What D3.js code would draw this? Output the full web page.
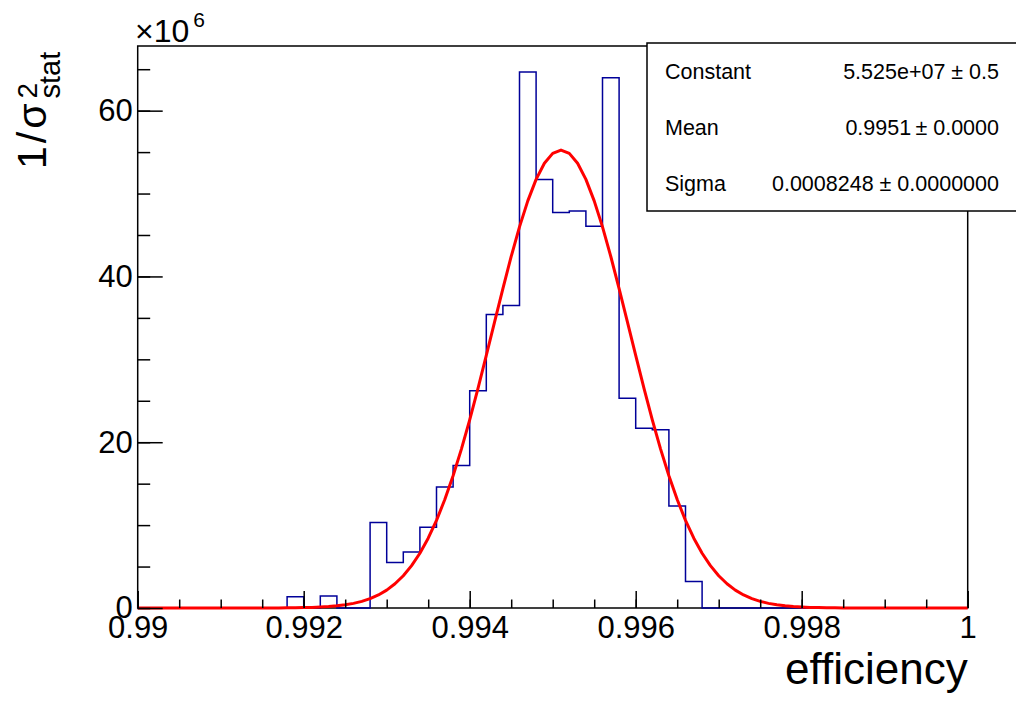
<!DOCTYPE html>
<html>
<head>
<meta charset="utf-8">
<script src="https://cdn.jsdelivr.net/npm/d3@7"></script>
<style>
    body { margin: 0; background: #fff; }
    svg { display: block; font-family: 'Liberation Sans', Arial, sans-serif; }
</style>
</head>
<body>
<svg id="chart" width="1016" height="702"></svg>
<script>
// histogram: 50 bins from 0.99 to 1.0, contents in units of 1e6
const binLow = 0.99
const binWidth = 0.0002
const binValues = [
    0, 0, 0, 0, 0, 0, 0, 0, 0, 1.36,
    0, 1.45, 0, 0, 10.3, 5.5, 6.76, 9.75, 14.6, 17.2,
    26.2, 35.4, 36.5, 64.65, 51.7, 47.7, 47.9, 46.05, 63.97, 25.3,
    21.7, 21.5, 12.3, 3.2, 0, 0, 0, 0, 0, 0,
    0, 0, 0, 0, 0, 0, 0, 0, 0, 0,
]

// gaus fit parameters (constant in units of 1e6)
const fitConstant = 55.25
const fitMean = 0.9951
const fitSigma = 0.0008248

const xTicks = [0.99, 0.992, 0.994, 0.996, 0.998, 1]
const xTickLabels = ['0.99', '0.992', '0.994', '0.996', '0.998', '1']
const yTicks = [0, 20, 40, 60]
const yTickLabels = ['0', '20', '40', '60']

const statNames = ['Constant', 'Mean', 'Sigma']
const statValues = [
    '5.525e+07 \u00b1 0.5',
    '0.9951\u2009\u00b1 0.0000',
    '0.0008248 \u00b1 0.0000000',
]

const width = 1016
const height = 702
const frame = { left: 137.7, right: 967.7, top: 46, bottom: 608 }

const svg = d3.select('#chart')
svg.append('rect')
    .attr('width', width)
    .attr('height', height)
    .attr('fill', '#fff')

const xScale = d3.scaleLinear()
    .domain([0.99, 1])
    .range([frame.left, frame.right])
const yScale = d3.scaleLinear()
    .domain([0, 67.8])
    .range([frame.bottom, frame.top])

// frame
svg.append('rect')
    .attr('x', frame.left)
    .attr('y', frame.top)
    .attr('width', frame.right - frame.left)
    .attr('height', frame.bottom - frame.top)
    .attr('fill', 'none')
    .attr('stroke', '#000')
    .attr('stroke-width', 1.5)

// histogram outline as steps
const steps = [[binLow, 0]]
binValues.forEach((v, i) => {
    steps.push([binLow + i * binWidth, v])
    steps.push([binLow + (i + 1) * binWidth, v])
})
const lineGen = d3.line()
    .x((d) => xScale(d[0]))
    .y((d) => yScale(d[1]))

svg.append('path')
    .datum(steps)
    .attr('d', lineGen)
    .attr('fill', 'none')
    .attr('stroke', '#000099')
    .attr('stroke-width', 1.5)

// fit curve
const gaus = (x) => fitConstant * Math.exp(-0.5 * ((x - fitMean) / fitSigma) ** 2)
const curve = d3.range(0, 101).map((i) => {
    const x = 0.99 + i * 0.0001
    return [x, gaus(x)]
})
svg.append('path')
    .datum(curve)
    .attr('d', lineGen)
    .attr('fill', 'none')
    .attr('stroke', '#ff0000')
    .attr('stroke-width', 3)
    .attr('stroke-linejoin', 'round')

// x axis
const gxMinor = svg.append('g')
    .attr('transform', `translate(0,${frame.bottom})`)
    .call(d3.axisBottom(xScale).tickValues(xScale.ticks(20)).tickFormat('').tickSizeInner(-8.5).tickSizeOuter(0))
gxMinor.select('.domain').remove()

const gx = svg.append('g')
    .attr('transform', `translate(0,${frame.bottom})`)
    .call(d3.axisBottom(xScale)
        .tickValues(xTicks)
        .tickFormat((d, i) => xTickLabels[i])
        .tickSizeInner(-17)
        .tickSizeOuter(0)
        .tickPadding(8))
gx.select('.domain').remove()
gx.selectAll('text')
    .attr('font-size', 31)
    .attr('font-family', 'Liberation Sans, Arial, sans-serif')
    .attr('fill', '#000')

// y axis
const gyMinor = svg.append('g')
    .attr('transform', `translate(${frame.left},0)`)
    .call(d3.axisLeft(yScale).tickValues(d3.range(0, 70, 5)).tickFormat('').tickSizeInner(-12.5).tickSizeOuter(0))
gyMinor.select('.domain').remove()

const gy = svg.append('g')
    .attr('transform', `translate(${frame.left},0)`)
    .call(d3.axisLeft(yScale)
        .tickValues(yTicks)
        .tickFormat((d, i) => yTickLabels[i])
        .tickSizeInner(-25)
        .tickSizeOuter(0)
        .tickPadding(5))
gy.select('.domain').remove()
gy.selectAll('text')
    .attr('font-size', 31)
    .attr('font-family', 'Liberation Sans, Arial, sans-serif')
    .attr('fill', '#000')

svg.selectAll('.tick line')
    .attr('stroke', '#000')
    .attr('stroke-width', 1.5)

// x10^6 multiplier
const mult = svg.append('text')
    .attr('x', 135)
    .attr('y', 41.5)
    .attr('font-size', 32)
mult.append('tspan').text('\u00d710')
mult.append('tspan')
    .attr('font-size', 21)
    .attr('dy', -15)
    .attr('dx', 4)
    .text('6')

// axis titles
svg.append('text')
    .attr('x', frame.right)
    .attr('y', 684)
    .attr('text-anchor', 'end')
    .attr('font-size', 44)
    .text('efficiency')

const yTitle = svg.append('g')
    .attr('transform', 'translate(46,169) rotate(-90)')
const yMain = yTitle.append('text')
    .attr('font-size', 41)
    .attr('letter-spacing', 3)
    .text('1/\u03c3')
const mainLen = yMain.node().getComputedTextLength()
yTitle.append('text')
    .attr('x', mainLen + 2)
    .attr('y', -9.5)
    .attr('font-size', 28)
    .text('2')
yTitle.append('text')
    .attr('x', mainLen + 2)
    .attr('y', 14)
    .attr('font-size', 29)
    .text('stat')

// stats box
const box = { x: 647, y: 43, w: 380, h: 168 }
svg.append('rect')
    .attr('x', box.x)
    .attr('y', box.y)
    .attr('width', box.w)
    .attr('height', box.h)
    .attr('fill', '#fff')
    .attr('stroke', '#000')
    .attr('stroke-width', 1.5)

const rowH = box.h / statNames.length
statNames.forEach((name, i) => {
    const base = box.y + rowH * (i + 0.5) + 7.8
    svg.append('text')
        .attr('x', 665)
        .attr('y', base)
        .attr('font-size', 21.5)
        .text(name)
    svg.append('text')
        .attr('x', 999)
        .attr('y', base)
        .attr('text-anchor', 'end')
        .attr('font-size', 21.5)
        .text(statValues[i])
})
</script>
</body>
</html>
